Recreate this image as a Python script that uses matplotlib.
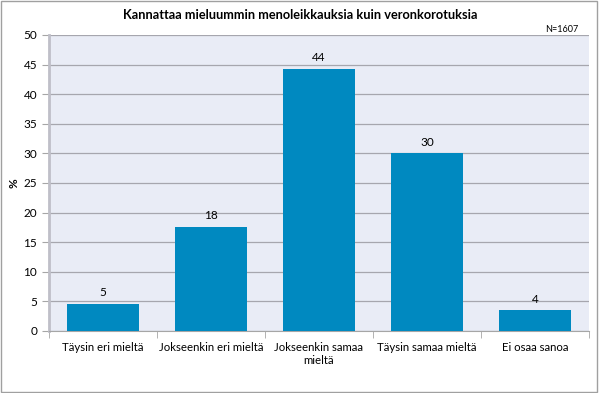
import matplotlib.pyplot as plt
import numpy as np

categories = ["Täysin eri mieltä", "Jokseenkin eri mieltä", "Jokseenkin samaa\nmieltä",
              "Täysin samaa mieltä", "Ei osaa sanoa"]
values = [4.6, 17.6, 44.3, 30.0, 3.5]
labels = ["5", "18", "44", "30", "4"]

plt.rcParams['font.family'] = ['Lato', 'DejaVu Sans']

fig = plt.figure(figsize=(5.99, 3.93), dpi=100)
ax = fig.add_axes([0.0818, 0.158, 0.9015, 0.753])
ax.set_facecolor('#E9ECF6')

x = np.arange(len(categories))
ax.bar(x, values, width=0.667, color='#0089C0', zorder=3)
for xi, v, lab in zip(x, values, labels):
    ax.text(xi, v + 0.9, lab, ha='center', va='bottom', fontsize=8.5, zorder=4)

ax.set_xlim(-0.5, 4.5)
ax.set_ylim(0, 50)
ax.set_yticks(range(0, 51, 5))
ax.grid(axis='y', color='#A6A6AE', linewidth=0.9, zorder=1)
ax.set_xticks(x)
ax.set_xticklabels(categories, fontsize=8.2)
ax.set_xticks(np.arange(-0.5, 5, 1), minor=True)
ax.tick_params(axis='x', which='major', length=0, pad=8)
ax.tick_params(axis='x', which='minor', length=5, color='#A6A6A6')
ax.tick_params(axis='y', length=5, color='#A6A6A6', labelsize=8.5)
ax.set_ylabel('%', fontsize=8.5, fontweight='bold', labelpad=3)

for s in ['top', 'right']:
    ax.spines[s].set_visible(False)
ax.spines['left'].set_color('#BFBFC8')
ax.spines['left'].set_linewidth(2)
ax.spines['bottom'].set_color('#A6A6A6')

fig.text(0.502, 0.962, 'Kannattaa mieluummin menoleikkauksia kuin veronkorotuksia',
         ha='center', va='center', fontsize=9.2, fontweight='bold')
fig.text(0.965, 0.926, 'N=1607', ha='right', va='center', fontsize=6.5)

fig.patches.append(plt.Rectangle((0.002, 0.003), 0.995, 0.994, transform=fig.transFigure,
                                 fill=False, edgecolor='#A0A0A0', linewidth=1))

fig.savefig('out.png', dpi=100)
